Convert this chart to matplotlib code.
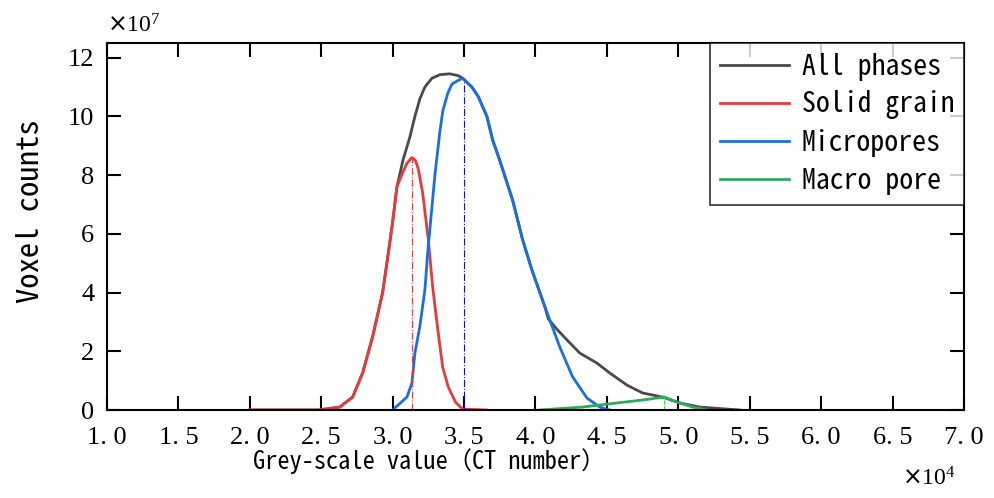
import numpy as np
import matplotlib
matplotlib.use('Agg')
import matplotlib.pyplot as plt

# grey value in units of 1e4, voxel counts in units of 1e7
solid_x = [2.0, 2.48, 2.63, 2.72, 2.79, 2.86, 2.93, 2.97, 3.00, 3.03, 3.07, 3.10, 3.135, 3.16, 3.18, 3.21, 3.25, 3.28, 3.32, 3.35, 3.39, 3.44, 3.49, 3.66]
solid_y = [0.0, 0.0, 0.1, 0.44, 1.26, 2.5, 4.0, 5.35, 6.4, 7.6, 8.08, 8.4, 8.6, 8.5, 8.2, 7.4, 5.8, 4.2, 2.6, 1.47, 0.78, 0.27, 0.03, 0.0]

micro_x = [3.0, 3.10, 3.135, 3.156, 3.19, 3.226, 3.247, 3.275, 3.296, 3.331, 3.352, 3.387, 3.415, 3.45, 3.49, 3.555, 3.60, 3.66, 3.70, 3.75, 3.84, 3.91, 3.975, 4.067, 4.10, 4.17, 4.26, 4.36, 4.45, 4.52]
micro_y = [0.0, 0.44, 0.92, 1.94, 2.83, 4.1, 5.45, 6.9, 8.0, 9.5, 10.2, 10.8, 11.1, 11.2, 11.3, 11.0, 10.67, 10.0, 9.2, 8.5, 7.15, 5.8, 4.77, 3.5, 3.07, 2.15, 1.13, 0.41, 0.1, 0.0]

all_x = [2.0, 2.48, 2.63, 2.72, 2.79, 2.86, 2.93, 2.97, 3.00, 3.03, 3.072, 3.121, 3.156, 3.191, 3.226, 3.275, 3.331, 3.40, 3.457, 3.49, 3.555, 3.60, 3.66, 3.70, 3.75, 3.84, 3.91, 3.975, 4.067, 4.09, 4.15, 4.22, 4.31, 4.43, 4.52, 4.64, 4.75, 4.89, 5.01, 5.15, 5.43]
all_y = [0.0, 0.0, 0.1, 0.44, 1.26, 2.5, 4.0, 5.35, 6.4, 7.6, 8.5, 9.3, 10.0, 10.6, 11.0, 11.3, 11.42, 11.45, 11.39, 11.3, 11.0, 10.67, 10.0, 9.2, 8.5, 7.15, 5.8, 4.77, 3.5, 3.1, 2.75, 2.39, 1.94, 1.6, 1.26, 0.85, 0.58, 0.44, 0.24, 0.1, 0.0]

macro_x = [4.03, 4.33, 4.57, 4.75, 4.90, 5.01, 5.10, 5.20]
macro_y = [0.0, 0.1, 0.24, 0.34, 0.44, 0.24, 0.1, 0.0]

solid_peak = (3.135, 8.6)
micro_peak = (3.50, 11.25)
macro_peak = (4.90, 0.44)

xticks = np.arange(1.0, 7.01, 0.5)
yticks = np.arange(0, 13, 2)

mono = ['Noto Sans Mono CJK SC', 'Liberation Mono']
serif = ['Liberation Serif']

fig = plt.figure(figsize=(9.95, 4.98), dpi=100)
ax = fig.add_axes([0.1075, 0.1767, 0.8613, 0.737])

ax.plot(all_x, all_y, color='#4a4a4a', lw=2, label='All phases')
ax.plot(solid_x, solid_y, color='#e8393d', lw=2, label='Solid grain')
ax.plot(micro_x, micro_y, color='#1a6fe0', lw=2, label='Micropores')
ax.plot(macro_x, macro_y, color='#2eaa5e', lw=2, label='Macro pore')

ax.plot([solid_peak[0]] * 2, [0, solid_peak[1]], color='#e8393d', lw=0.8, ls='-.')
ax.plot([micro_peak[0]] * 2, [0, micro_peak[1]], color='#1010d0', lw=0.8, ls='-.')
ax.plot([macro_peak[0]] * 2, [0, macro_peak[1]], color='#33dd33', lw=0.8, ls='--')

ax.set_xlim(1.0, 7.0)
ax.set_ylim(0, 12.5)
ax.set_xticks(xticks)
ax.set_xticklabels([('%.1f' % v).replace('.', '. ') for v in xticks], family=serif, fontsize=19)
ax.set_yticks(yticks)
ax.set_yticklabels([str(v) for v in yticks], family=serif, fontsize=19)
ax.tick_params(direction='in', length=10, width=1.5, top=True, right=True)
ax.tick_params(axis='x', pad=12)
ax.tick_params(axis='y', pad=9)
for s in ax.spines.values():
    s.set_linewidth(1.5)

fig.text(253 / 995, 1 - 461 / 498, 'Grey-scale value（CT number）', family=mono,
         fontsize=17.5, ha='left', va='center')
fig.text(31 / 995, 1 - 211 / 498, 'Voxel counts', family=mono, fontsize=22,
         rotation=90, ha='center', va='center')

fig.text(0.108, 0.935, r'$\times\mathregular{10^7}$', family=serif, fontsize=17)
fig.text(0.907, 0.025, r'$\times\mathregular{10^4}$', family=serif, fontsize=17)

leg = ax.legend(loc='upper right', prop={'family': mono, 'size': 20}, frameon=True,
                fancybox=False, borderaxespad=0, handlelength=2.5, labelspacing=0.35,
                borderpad=0.35, handletextpad=0.45)
leg.get_frame().set_edgecolor('black')
leg.get_frame().set_linewidth(1.2)

fig.savefig('out.png', dpi=100)
